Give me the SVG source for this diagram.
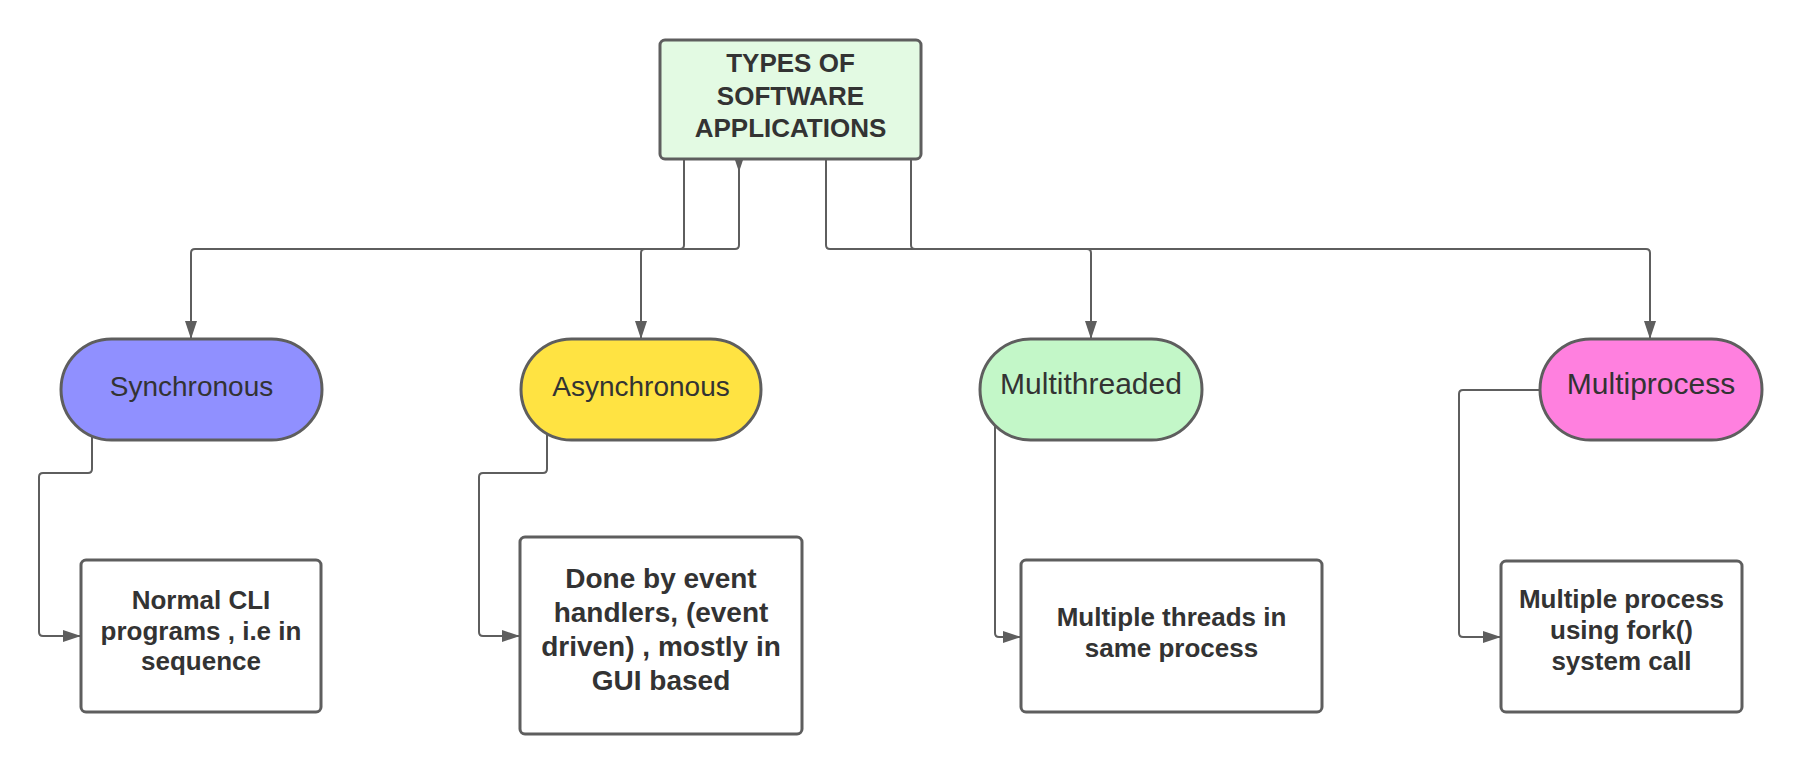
<svg xmlns="http://www.w3.org/2000/svg" width="1802" height="775" viewBox="0 0 1802 775">
<style>
.conn{fill:none;stroke:#5e5e5e;stroke-width:2}
.shape{stroke:#5e5e5e;stroke-width:3}
.bt{font-family:"Liberation Sans",Arial,sans-serif;font-weight:bold;font-size:26px;fill:#333333;text-anchor:middle}
.bt28{font-size:28px}
.pt{font-family:"Liberation Sans",Arial,sans-serif;fill:#333333;text-anchor:middle}
</style>
<defs>
<marker id="arr" markerUnits="userSpaceOnUse" markerWidth="18" markerHeight="12" viewBox="0 0 18 12" refX="18" refY="6" orient="auto"><path d="M0 0 L18 6 L0 12 z" fill="#5e5e5e"/></marker>
<marker id="arrS" markerUnits="userSpaceOnUse" markerWidth="18" markerHeight="12" viewBox="0 0 18 12" refX="5" refY="6" orient="auto"><path d="M0 0 L18 6 L0 12 z" fill="#5e5e5e"/></marker>
</defs>
<rect width="1802" height="775" fill="#ffffff"/>
<g id="connectors">
<path class="conn" d="M684 159 V245 Q684 249 680 249 H195 Q191 249 191 253 V339" marker-end="url(#arr)"/>
<path class="conn" d="M739 159 V245 Q739 249 735 249 H645 Q641 249 641 253 V339" marker-start="url(#arrS)" marker-end="url(#arr)"/>
<path class="conn" d="M826 159 V245 Q826 249 830 249 H1087 Q1091 249 1091 253 V339" marker-end="url(#arr)"/>
<path class="conn" d="M911 159 V245 Q911 249 915 249 H1646 Q1650 249 1650 253 V339" marker-end="url(#arr)"/>
<path class="conn" d="M92 436 V469 Q92 473 88 473 H43 Q39 473 39 477 V632 Q39 636 43 636 H81" marker-end="url(#arr)"/>
<path class="conn" d="M547 434 V469 Q547 473 543 473 H483 Q479 473 479 477 V632 Q479 636 483 636 H520" marker-end="url(#arr)"/>
<path class="conn" d="M995 425 V633 Q995 637 999 637 H1021" marker-end="url(#arr)"/>
<path class="conn" d="M1540 390 H1463 Q1459 390 1459 394 V633 Q1459 637 1463 637 H1501" marker-end="url(#arr)"/>
</g>
<g id="root">
<rect class="shape" x="660" y="40" width="261" height="119" rx="5" fill="#e3fae3"/>
<text class="bt" x="790.5" y="72">TYPES OF</text>
<text class="bt" x="790.5" y="105">SOFTWARE</text>
<text class="bt" x="790.5" y="137">APPLICATIONS</text>
</g>
<g id="synchronous">
<rect class="shape" x="61" y="339" width="261" height="101" rx="50.5" fill="#9090ff"/>
<text class="pt" x="191.5" y="396" font-size="28">Synchronous</text>
</g>
<g id="asynchronous">
<rect class="shape" x="521" y="339" width="240" height="101" rx="50.5" fill="#ffe342"/>
<text class="pt" x="641" y="396" font-size="28">Asynchronous</text>
</g>
<g id="multithreaded">
<rect class="shape" x="980" y="339" width="222" height="101" rx="50.5" fill="#c3f7c8"/>
<text class="pt" x="1091" y="394" font-size="30">Multithreaded</text>
</g>
<g id="multiprocess">
<rect class="shape" x="1540" y="339" width="222" height="101" rx="50.5" fill="#ff80df"/>
<text class="pt" x="1651" y="394" font-size="30">Multiprocess</text>
</g>
<g id="box-sync">
<rect class="shape" x="81" y="560" width="240" height="152" rx="5" fill="#ffffff"/>
<text class="bt" x="201" y="609">Normal CLI</text>
<text class="bt" x="201" y="640">programs , i.e in</text>
<text class="bt" x="201" y="670">sequence</text>
</g>
<g id="box-async">
<rect class="shape" x="520" y="537" width="282" height="197" rx="5" fill="#ffffff"/>
<text class="bt bt28" x="661" y="588">Done by event</text>
<text class="bt bt28" x="661" y="622">handlers, (event</text>
<text class="bt bt28" x="661" y="656">driven) , mostly in</text>
<text class="bt bt28" x="661" y="690">GUI based</text>
</g>
<g id="box-thread">
<rect class="shape" x="1021" y="560" width="301" height="152" rx="5" fill="#ffffff"/>
<text class="bt" x="1171.5" y="626">Multiple threads in</text>
<text class="bt" x="1171.5" y="657">same process</text>
</g>
<g id="box-process">
<rect class="shape" x="1501" y="561" width="241" height="151" rx="5" fill="#ffffff"/>
<text class="bt" x="1621.5" y="608">Multiple process</text>
<text class="bt" x="1621.5" y="639">using fork()</text>
<text class="bt" x="1621.5" y="670">system call</text>
</g>
</svg>
